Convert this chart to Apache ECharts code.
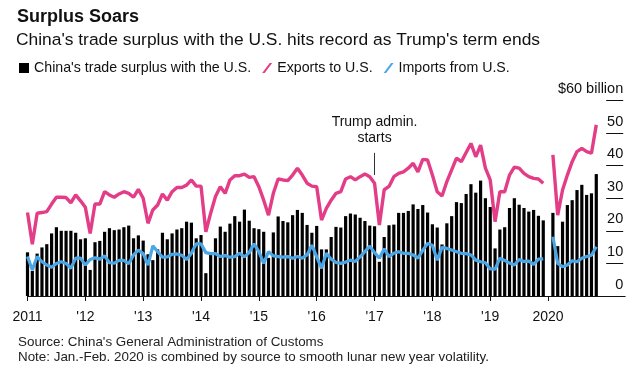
<!DOCTYPE html>
<html><head><meta charset="utf-8">
<script src="https://cdn.jsdelivr.net/npm/echarts@6/dist/echarts.min.js"></script>
<style>html,body{margin:0;padding:0;background:#fff}#c{width:640px;height:373px}</style>
</head><body><div id="c"></div>
<script>
// Monthly data, Jan 2011 .. Nov 2020 (Jan 2020 empty: Jan-Feb 2020 combined shown at Feb)
const years = [2011,2012,2013,2014,2015,2016,2017,2018,2019,2020];
const yearLabels = ['2011',"'12","'13","'14","'15","'16","'17","'18","'19",'2020'];
const surplus = [
  13.4, 7.7,13.0,14.9,15.9,19.2,21.1,20.0,20.0,20.0,19.4,17.4,
  17.7, 8.0,16.5,16.9,19.7,20.8,20.2,20.4,21.1,21.6,17.7,18.6,
  17.0,12.8,11.0,14.3,19.4,17.4,19.2,20.4,20.8,22.8,22.5,17.7,
  18.7, 7.0,13.5,17.7,21.3,19.7,22.2,24.5,22.8,26.5,23.1,20.8,
  20.5,19.7,11.7,19.5,24.4,23.0,22.6,24.8,26.4,25.5,21.8,19.4,
  21.5,14.3,14.3,18.1,21.2,21.0,24.5,25.3,25.0,24.0,23.0,21.6,
  21.4,10.5,18.1,21.7,21.9,25.5,25.5,26.1,28.1,26.7,27.9,25.6,
  22.0,21.0,15.8,22.3,24.5,28.8,28.5,31.3,34.3,31.7,35.4,30.0,
  27.3,14.6,20.4,21.1,27.0,30.0,28.0,27.0,25.9,26.4,24.6,23.2,
  null,25.5,15.3,22.8,27.9,29.4,32.5,34.1,31.0,31.5,37.4
];
const exportsUS = [
  25.6,15.9,25.4,25.6,25.9,28.2,30.3,30.3,30.2,28.6,31.0,29.2,
  27.2,19.2,28.2,28.2,32.0,31.0,30.3,31.3,32.0,31.5,30.3,32.7,
  30.0,22.3,26.4,27.9,31.3,29.4,32.0,33.3,33.3,34.0,35.6,33.7,
  33.7,19.7,25.4,30.5,33.5,31.5,35.6,36.9,36.9,37.4,36.4,36.6,
  33.5,29.4,24.8,31.5,35.9,35.6,35.4,37.1,39.2,37.1,34.6,33.7,
  33.5,23.3,26.9,29.4,31.5,32.0,35.9,36.6,35.6,36.6,37.4,36.6,
  34.6,21.8,32.6,33.6,36.6,37.6,38.1,39.2,40.7,38.1,41.9,41.7,
  37.1,32.0,30.7,35.1,38.7,42.3,41.2,44.0,46.8,42.7,46.3,39.2,
  35.6,22.8,32.0,32.0,37.1,39.5,39.2,37.6,36.6,36.1,35.9,34.6,
  null,43.3,24.8,32.5,37.1,41.2,44.3,45.3,44.3,43.8,52.5
];
const importsUS = [
  12.1, 8.0,12.1,10.5, 9.5, 8.8,10.0,10.5,10.0, 8.5,11.6,11.6,
   9.5,11.2,11.7,11.3,12.3,10.2,10.1,10.9,10.9, 9.9,12.6,14.1,
  13.0, 9.5,15.4,13.6,11.9,12.0,12.8,12.9,12.5,11.2,13.1,16.0,
  16.0,13.3,13.0,13.0,12.1,12.4,11.9,12.1,13.1,12.0,13.3,16.0,
  13.6,10.0,13.6,12.3,12.1,11.9,12.1,11.6,12.1,11.6,12.6,15.6,
  12.0, 8.5,13.1,11.3,10.3,10.0,10.4,11.0,10.6,12.0,13.6,15.3,
  13.3,11.6,14.5,12.1,13.1,13.6,13.1,13.1,12.6,11.6,14.0,16.1,
  15.6,11.0,14.9,14.6,14.1,13.6,13.1,13.0,12.6,11.0,10.5,10.2,
   8.3, 8.2,11.6,10.9,10.1, 9.5,11.2,10.6,10.7, 9.7,11.3,11.4,
  null,18.2,10.0, 9.0, 9.5,10.8,10.5,11.6,12.1,12.5,15.1
];
const yTickLabels = {0:'0',10:'10',20:'20',30:'30',40:'40',50:'50',60:'$60 billion'};

// month categories, padded to May 2021 so the axis runs under the value labels
const months = [];
for (let y = 2011; y <= 2021; y++) for (let m = 1; m <= 12; m++) {
  if (months.length < 125) months.push(y + '-' + String(m).padStart(2,'0'));
}
const isYearStart = (i) => i % 12 === 0 && i / 12 < years.length;

const FONT = 'Liberation Sans';
const chart = echarts.init(document.getElementById('c'), null, {renderer:'canvas'});
chart.setOption({
  animation: false,
  textStyle: {fontFamily: FONT},
  title: [
    {text: 'Surplus Soars', left: 12, top: 3, textStyle: {fontFamily: FONT, fontSize: 18, fontWeight: 'bold', color: '#111'}},
    {text: "China's trade surplus with the U.S. hits record as Trump's term ends", left: 11, top: 27, textStyle: {fontFamily: FONT, fontSize: 17.4, fontWeight: 'normal', color: '#111'}},
    {text: "Source: China's General Administration of Customs", left: 13, top: 331, textStyle: {fontFamily: FONT, fontSize: 13.4, fontWeight: 'normal', color: '#222'}},
    {text: 'Note: Jan.-Feb. 2020 is combined by source to smooth lunar new year volatility.', left: 13, top: 346, textStyle: {fontFamily: FONT, fontSize: 13.4, fontWeight: 'normal', color: '#222'}}
  ],
  legend: {
    left: 14, top: 56, itemWidth: 10, itemHeight: 10, itemGap: 11,
    textStyle: {fontFamily: FONT, fontSize: 14.2, color: '#111'},
    data: [
      {name: "China's trade surplus with the U.S.", icon: 'rect'},
      {name: 'Exports to U.S.', icon: 'path://M0,10 L2.5,10 L10,0 L7.5,0 Z'},
      {name: 'Imports from U.S.', icon: 'path://M0,10 L2.5,10 L10,0 L7.5,0 Z'}
    ]
  },
  grid: {left: 27.5, right: 14.8, top: 100.4, bottom: 77, containLabel: false},
  xAxis: {
    type: 'category', data: months, boundaryGap: false,
    axisLine: {lineStyle: {color: '#111', width: 1}},
    axisTick: {show: true, interval: (i) => isYearStart(i), length: 5, lineStyle: {color: '#111'}},
    axisLabel: {interval: (i) => isYearStart(i), margin: 14, fontFamily: FONT, fontSize: 14, color: '#111',
      formatter: (v, i) => yearLabels[i / 12]},
    splitLine: {show: false}
  },
  yAxis: {
    type: 'value', min: 0, max: 60, interval: 10, position: 'right', offset: -2,
    axisLine: {show: false},
    axisTick: {show: true, inside: true, length: 17, lineStyle: {color: '#111', width: 1}},
    axisLabel: {inside: true, margin: 0, align: 'right', verticalAlign: 'bottom', padding: [0,0,4,0],
      fontFamily: FONT, fontSize: 14.5, color: '#111', formatter: (v) => yTickLabels[v]},
    splitLine: {show: false}
  },
  series: [
    {name: "China's trade surplus with the U.S.", type: 'bar', data: surplus, barWidth: 3.2, clip: false,
      itemStyle: {color: '#000'}, z: 1},
    {name: 'Imports from U.S.', type: 'line', data: importsUS, symbol: 'none', connectNulls: false,
      lineStyle: {color: '#4ba6e6', width: 3.2}, itemStyle: {color: '#4ba6e6'}, z: 3},
    {name: 'Exports to U.S.', type: 'line', data: exportsUS, symbol: 'none', connectNulls: false,
      lineStyle: {color: '#e33d88', width: 3.4}, itemStyle: {color: '#e33d88'}, z: 4,
      markLine: {silent: true, symbol: 'none', animation: false,
        lineStyle: {color: '#333', width: 1, type: 'solid'},
        label: {show: true, position: 'end', distance: 7, formatter: 'Trump admin.\nstarts',
          fontFamily: FONT, fontSize: 14, lineHeight: 16, color: '#111'},
        data: [[{coord: ['2017-01', 37.1]}, {coord: ['2017-01', 43.9]}]]
      }}
  ]
});
</script></body></html>
